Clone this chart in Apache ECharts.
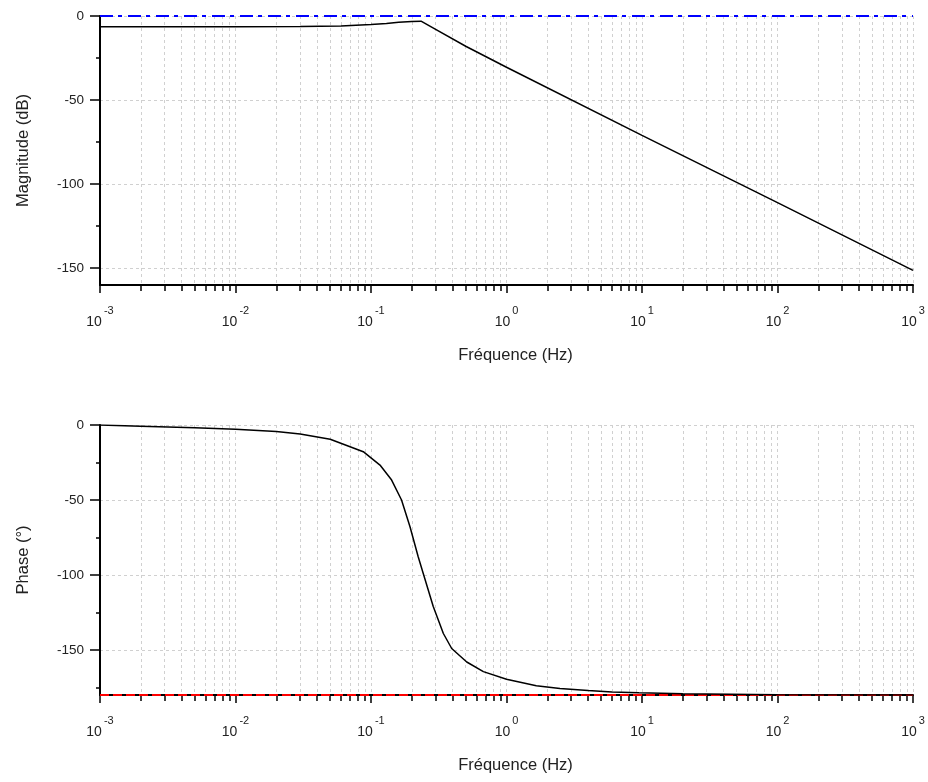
<!DOCTYPE html>
<html>
<head>
<meta charset="utf-8">
<script src="https://cdn.jsdelivr.net/npm/echarts@6/dist/echarts.min.js"></script>
<style>
html,body{margin:0;padding:0;background:#fff;}
#chart{width:928px;height:782px;}
</style>
</head>
<body>
<div id="chart"></div>
<script>
// ---- data ----
const magFreq  = [0.001, 0.01, 0.03, 0.06, 0.1, 0.13, 0.16, 0.2, 0.234, 0.3, 0.5, 1, 10, 100, 1000];
const magDb    = [-6.4, -6.4, -6.2, -5.9, -5.1, -4.4, -3.7, -3.2, -3.1, -8, -18, -30.5, -71, -111, -151.3];

const phaseFreq = [0.001, 0.002, 0.005, 0.01, 0.02, 0.03, 0.05, 0.0877, 0.1165, 0.142, 0.168, 0.194, 0.223, 0.243, 0.288, 0.342, 0.394, 0.509, 0.675, 1.0, 1.66, 2.48, 4.0, 6.0, 9.5, 20, 100, 1000];
const phaseDeg  = [0, -0.8, -1.8, -2.9, -4.4, -6.0, -9.5, -17.8, -26.7, -36.7, -50, -67.8, -87.8, -99, -121, -139, -149, -158, -164.4, -169.5, -173.8, -175.6, -177, -178, -178.5, -179.2, -179.8, -180];

const magRef = 0;        // blue dash-dot reference (dB)
const phaseRef = -180;   // red dashed reference (deg)

const xMajorTicks = [0.001, 0.01, 0.1, 1, 10, 100, 1000];
const magTicks    = [0, -50, -100, -150];
const magMinor    = [-25, -75, -125];
const phaseTicks  = [0, -50, -100, -150];
const phaseMinor  = [-25, -75, -125, -175];

const xAllTicks = xMajorTicks.slice();
for (let e = -3; e < 3; e++) {
  for (let k = 2; k <= 9; k++) xAllTicks.push(+(k * Math.pow(10, e)).toPrecision(3));
}
xAllTicks.sort((a, b) => a - b);

const FONT = 'Liberation Sans, Arial, sans-serif';
const TXT = '#222';
const gridLine = { show: true, lineStyle: { color: '#d0d0d0', type: [3, 3], width: 1 } };
const grids = [
  { left: 100, top: 16, width: 813, height: 269 },
  { left: 100, top: 425, width: 813, height: 270 }
];

function mainX(gridIndex) {
  return {
    type: 'log', logBase: 10, gridIndex, min: 0.001, max: 1000, position: 'bottom',
    name: 'Fréquence (Hz)', nameLocation: 'middle', nameGap: 62,
    nameTextStyle: { fontFamily: FONT, fontSize: 16.5, color: TXT, padding: [0, 0, 0, 18] },
    axisLine: { show: true, onZero: false, lineStyle: { color: '#000', width: 2 } },
    axisTick: { show: true, inside: false, length: 6, customValues: xAllTicks, lineStyle: { color: '#000', width: 1.5 } },
    axisLabel: {
      show: true, margin: 20, customValues: xMajorTicks, showMinLabel: true, showMaxLabel: true,
      formatter: v => '{b|10}{s|' + Math.round(Math.log10(v)) + '}',
      rich: {
        b: { fontFamily: FONT, fontSize: 14, color: TXT, lineHeight: 24, verticalAlign: 'bottom' },
        s: { fontFamily: FONT, fontSize: 11, color: TXT, lineHeight: 24, verticalAlign: 'top', padding: [0, 0, 0, 2] }
      }
    },
    splitLine: gridLine
  };
}
// overlay axis giving the longer decade ticks (placed on the bottom edge via offset)
function decadeX(gridIndex) {
  return {
    type: 'log', logBase: 10, gridIndex, min: 0.001, max: 1000, position: 'top',
    offset: -grids[gridIndex].height,
    axisLine: { show: false },
    axisTick: { show: true, inside: true, length: 8, customValues: xMajorTicks, lineStyle: { color: '#000', width: 1.5 } },
    axisLabel: { show: false },
    splitLine: { show: false }
  };
}
function majorY(gridIndex, min, ticks, name) {
  return {
    type: 'value', gridIndex, min, max: 0, position: 'left',
    name, nameLocation: 'middle', nameGap: 68,
    nameTextStyle: { fontFamily: FONT, fontSize: 16.5, color: TXT },
    axisLine: { show: true, onZero: false, lineStyle: { color: '#000', width: 2 } },
    axisTick: { show: true, inside: false, length: 10, customValues: ticks, lineStyle: { color: '#000', width: 1.5 } },
    axisLabel: { show: true, margin: 16, customValues: ticks, fontFamily: FONT, fontSize: 13.5, color: TXT },
    splitLine: gridLine
  };
}
function minorY(gridIndex, min, ticks) {
  return {
    type: 'value', gridIndex, min, max: 0, position: 'left', offset: 0,
    axisLine: { show: false },
    axisTick: { show: true, inside: false, length: 4, customValues: ticks, lineStyle: { color: '#000', width: 1.5 } },
    axisLabel: { show: false },
    splitLine: { show: false }
  };
}

const option = {
  animation: false,
  backgroundColor: '#fff',
  grid: grids,
  xAxis: [mainX(0), decadeX(0), mainX(1), decadeX(1)],
  yAxis: [majorY(0, -160, magTicks, 'Magnitude (dB)'), minorY(0, -160, magMinor),
          majorY(1, -180, phaseTicks, 'Phase (°)'), minorY(1, -180, phaseMinor)],
  series: [
    {
      type: 'line', xAxisIndex: 0, yAxisIndex: 0, symbol: 'none', z: 5,
      data: magFreq.map((f, i) => [f, magDb[i]]),
      lineStyle: { color: '#000', width: 1.5 },
      markLine: {
        silent: true, symbol: 'none', label: { show: false },
        lineStyle: { color: '#0000ff', width: 2, type: [13, 5, 4, 6] },
        data: [{ yAxis: magRef }]
      }
    },
    {
      type: 'line', xAxisIndex: 2, yAxisIndex: 2, symbol: 'none', z: 5,
      data: phaseFreq.map((f, i) => [f, phaseDeg[i]]),
      lineStyle: { color: '#000', width: 1.5 },
      markLine: {
        silent: true, symbol: 'none', label: { show: false },
        lineStyle: { color: '#ff0000', width: 2, type: [9, 4] },
        data: [{ yAxis: phaseRef }]
      }
    }
  ]
};

const chart = echarts.init(document.getElementById('chart'), null, { renderer: 'canvas' });
chart.setOption(option);
</script>
</body>
</html>
